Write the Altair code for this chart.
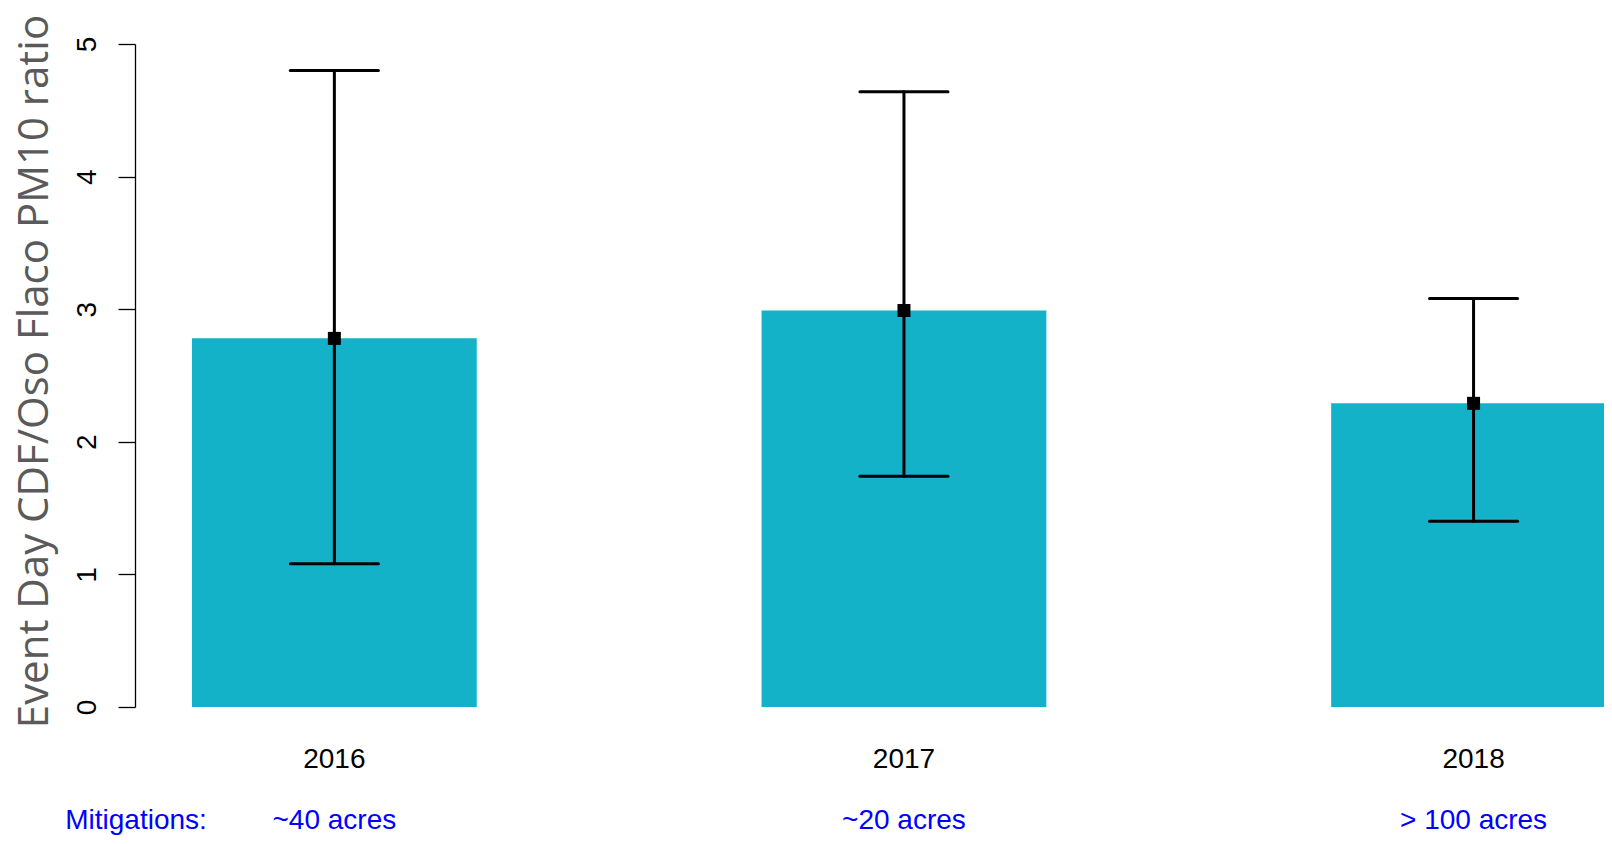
import altair as alt
import pandas as pd

years = [2016, 2017, 2018]
year_labels = ["2016", "2017", "2018"]
means = [2.78, 2.99, 2.29]
lowers = [1.08, 1.74, 1.40]
uppers = [4.80, 4.64, 3.08]
mitigations = ["~40 acres", "~20 acres", "> 100 acres"]
mitigation_head = ["Mitigations:"]

df = pd.DataFrame({
    "year": years,
    "label": year_labels,
    "mean": means,
    "lower": lowers,
    "upper": uppers,
    "mitigation": mitigations,
})

xscale = alt.Scale(domain=[2015.65, 2018.229], nice=False, zero=False)
yscale = alt.Scale(domain=[0, 5], nice=False)

yaxis = alt.Axis(values=[0, 1, 2, 3, 4, 5], format="d",
                 title="Event Day CDF/Oso Flaco PM10 ratio",
                 grid=False, domainColor="black", domainWidth=1.3,
                 tickColor="black", tickWidth=1.3, tickSize=17,
                 labelAngle=270, labelAlign="center", labelBaseline="alphabetic",
                 labelPadding=23, labelFont="Liberation Sans", labelFontSize=28,
                 labelColor="black",
                 titleFont="Open Sans", titleFontSize=42, titleFontWeight="normal",
                 titleColor="#5A5A5A", titleAngle=270, titleAlign="center",
                 titleBaseline="alphabetic", titleX=-88, titleY=327)

base = alt.Chart(df)

bars = base.transform_calculate(
    lo="datum.year - 0.25", hi="datum.year + 0.25"
).mark_bar(color="#13B2C8", clip=True).encode(
    x=alt.X("lo:Q", scale=xscale, axis=None),
    x2="hi:Q",
    y=alt.Y("mean:Q", scale=yscale, axis=yaxis),
    y2=alt.datum(0),
)

stems = base.mark_rule(color="black", strokeWidth=3, strokeCap="round").encode(
    x=alt.X("year:Q", scale=xscale, axis=None),
    y=alt.Y("lower:Q", scale=yscale, axis=yaxis),
    y2="upper:Q",
)

caps_top = base.transform_calculate(
    c1="datum.year - 0.0773", c2="datum.year + 0.0773"
).mark_rule(color="black", strokeWidth=3, strokeCap="round").encode(
    x=alt.X("c1:Q", scale=xscale, axis=None),
    x2="c2:Q",
    y=alt.Y("upper:Q", scale=yscale, axis=yaxis),
)

caps_bot = base.transform_calculate(
    c1="datum.year - 0.0773", c2="datum.year + 0.0773"
).mark_rule(color="black", strokeWidth=3, strokeCap="round").encode(
    x=alt.X("c1:Q", scale=xscale, axis=None),
    x2="c2:Q",
    y=alt.Y("lower:Q", scale=yscale, axis=yaxis),
)

points = base.mark_square(color="black", size=169, opacity=1, filled=True).encode(
    x=alt.X("year:Q", scale=xscale, axis=None),
    y=alt.Y("mean:Q", scale=yscale, axis=yaxis),
)

year_text = base.mark_text(font="Liberation Sans", fontSize=28, color="black",
                           baseline="alphabetic", align="center").encode(
    x=alt.X("year:Q", scale=xscale, axis=None),
    y=alt.value(724),
    text="label:N",
)

mit_text = base.mark_text(font="Liberation Sans", fontSize=28, color="#0000FF",
                          baseline="alphabetic", align="center").encode(
    x=alt.X("year:Q", scale=xscale, axis=None),
    y=alt.value(785),
    text="mitigation:N",
)

head_text = alt.Chart(pd.DataFrame({"t": mitigation_head})).mark_text(
    font="Liberation Sans", fontSize=28, color="#0000FF", baseline="alphabetic", align="center"
).encode(
    x=alt.value(1),
    y=alt.value(785),
    text="t:N",
)

chart = alt.layer(bars, stems, caps_top, caps_bot, points, year_text, mit_text, head_text).properties(
    width=1469,
    height=663,
    background="white",
    padding={"left": 127, "top": 36, "right": 0, "bottom": 129},
    autosize=alt.AutoSizeParams(type="none"),
).configure_view(strokeWidth=0).configure_axis(grid=False)

chart.save("out.html", embed_options={"renderer": "svg", "actions": False})
